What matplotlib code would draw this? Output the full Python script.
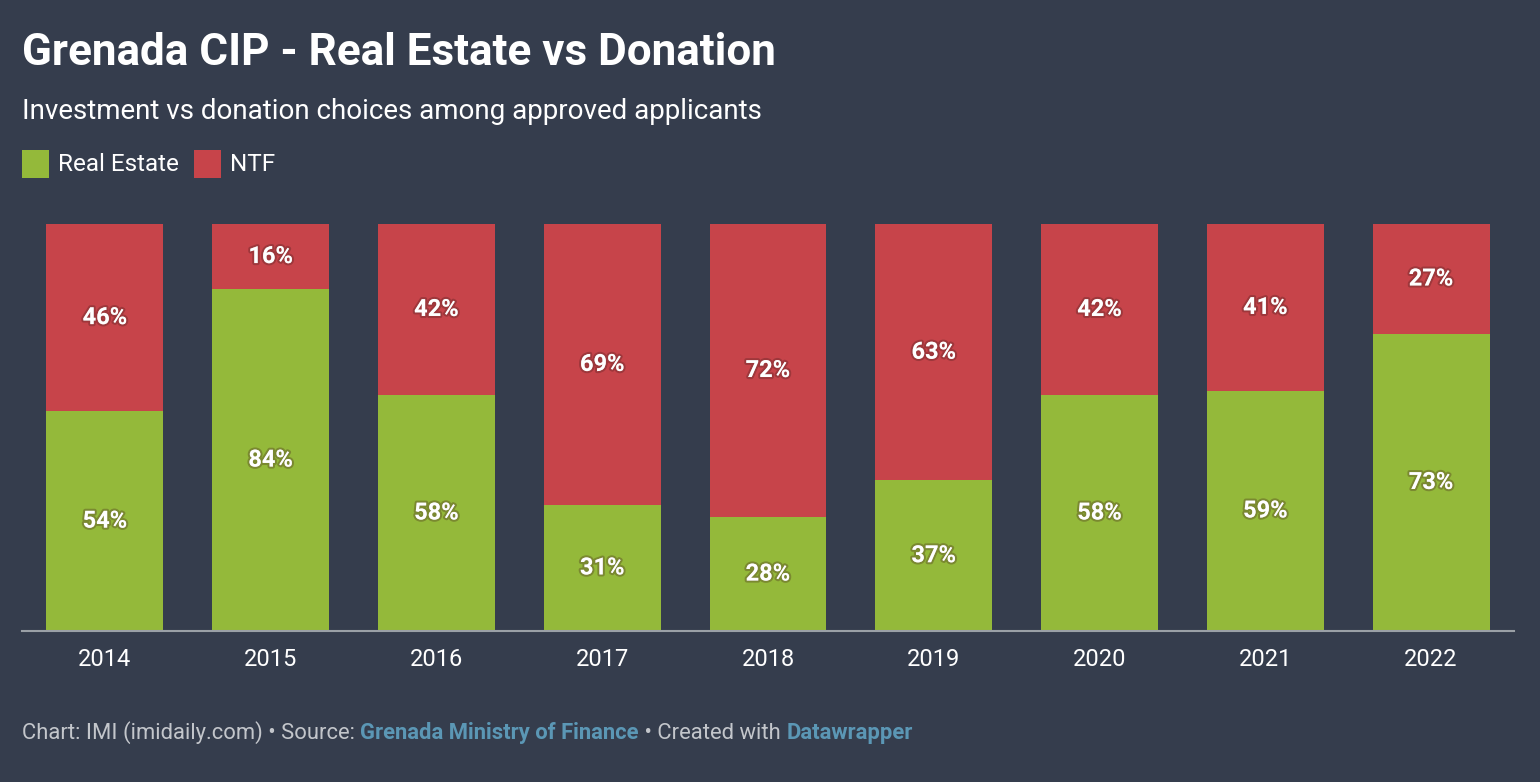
import matplotlib
matplotlib.use("Agg")
import matplotlib.pyplot as plt
import matplotlib.patheffects as pe
from matplotlib.patches import Rectangle

years = ["2014", "2015", "2016", "2017", "2018", "2019", "2020", "2021", "2022"]
real_estate = [54, 84, 58, 31, 28, 37, 58, 59, 73]
ntf = [46, 16, 42, 69, 72, 63, 42, 41, 27]

BG = "#353d4d"
GREEN = "#94b93a"
RED = "#c7444a"
W, H = 1540, 782

plt.rcParams['font.family'] = ['Roboto', 'DejaVu Sans']
fig = plt.figure(figsize=(W / 100, H / 100), dpi=100, facecolor=BG)

def fx(px):
    return px / W

def fy(py):
    return 1 - py / H

ax = fig.add_axes([fx(22), fy(631), fx(1514) - fx(22), fy(224) - fy(631)])
ax.set_facecolor(BG)
x = list(range(len(years)))
ax.bar(x, real_estate, width=0.705, color=GREEN, linewidth=0)
ax.bar(x, ntf, width=0.705, bottom=real_estate, color=RED, linewidth=0)
ax.set_xlim(-0.5, len(years) - 0.5)
ax.set_ylim(0, 100)
for s in ["top", "right", "left"]:
    ax.spines[s].set_visible(False)
ax.spines["bottom"].set_color("#9aa0a6")
ax.spines["bottom"].set_linewidth(1.5)
ax.set_yticks([])
ax.set_xticks(x)
ax.set_xticklabels(years, color="white", fontsize=17)
ax.tick_params(axis="x", length=0, pad=12)

effects = [pe.withStroke(linewidth=3, foreground=(0.25, 0.1, 0.1, 0.3))]
for i in x:
    for bottom, val in ((0, real_estate[i]), (real_estate[i], ntf[i])):
        ax.text(i, bottom + val / 2, f"{val}%", ha="center", va="center",
                color="white", fontsize=17, fontweight="bold",
                path_effects=effects)

fig.text(fx(22), fy(65), "Grenada CIP - Real Estate vs Donation", color="white",
         fontsize=31.7, fontweight="bold", va="baseline", ha="left")
fig.text(fx(22), fy(119), "Investment vs donation choices among approved applicants",
         color="white", fontsize=20, va="baseline", ha="left")

# legend
fig.patches.append(Rectangle((fx(22), fy(178)), fx(27), 28 / H, transform=fig.transFigure,
                             facecolor=GREEN, edgecolor="none"))
fig.text(fx(58), fy(171), "Real Estate", color="white", fontsize=17.5, va="baseline")
fig.patches.append(Rectangle((fx(194), fy(178)), fx(27), 28 / H, transform=fig.transFigure,
                             facecolor=RED, edgecolor="none"))
fig.text(fx(230), fy(171), "NTF", color="white", fontsize=17.5, va="baseline")

# footer
parts = [("Chart: IMI (imidaily.com) • Source: ", "#c3c6cb", "normal"),
         ("Grenada Ministry of Finance", "#5b97b5", "bold"),
         (" • Created with ", "#c3c6cb", "normal"),
         ("Datawrapper", "#5b97b5", "bold")]
fig.canvas.draw()
r = fig.canvas.get_renderer()
xp = 22
for txt, col, wt in parts:
    t = fig.text(fx(xp), fy(739), txt, color=col, fontsize=15.8, fontweight=wt, va="baseline")
    bb = t.get_window_extent(renderer=r)
    xp += bb.width

fig.savefig("out.png", dpi=100, facecolor=BG)
